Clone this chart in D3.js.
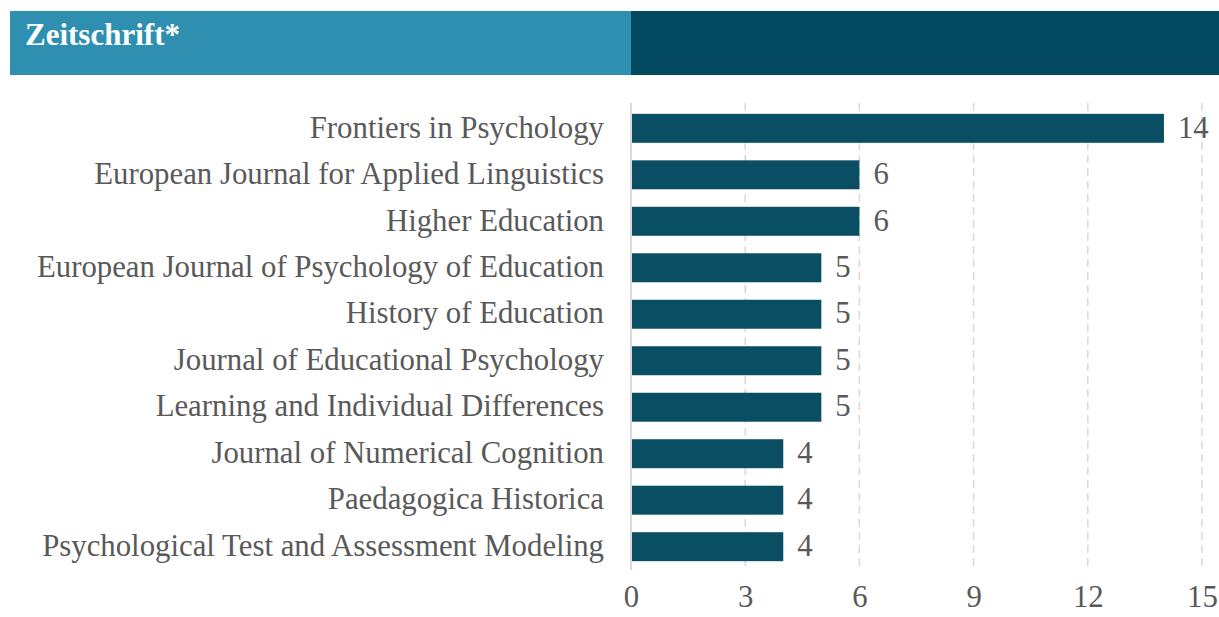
<!DOCTYPE html>
<html><head><meta charset="utf-8">
<script src="https://cdn.jsdelivr.net/npm/d3@7"></script>
<style>body{margin:0;background:#fff;} svg{display:block;}</style>
</head><body>
<svg id="c" width="1219" height="617"></svg>
<script>
const categories = ["Frontiers in Psychology","European Journal for Applied Linguistics","Higher Education","European Journal of Psychology of Education","History of Education","Journal of Educational Psychology","Learning and Individual Differences","Journal of Numerical Cognition","Paedagogica Historica","Psychological Test and Assessment Modeling"];
const values = [14,6,6,5,5,5,5,4,4,4];
const tickValues = [0,3,6,9,12,15];
const title = "Zeitschrift*";

const svg = d3.select("#c");
const font = "'Liberation Serif', 'Times New Roman', serif";
const fs = 30.8;
// header
svg.append("rect").attr("x",10).attr("y",11).attr("width",621).attr("height",64).attr("fill","#2E8FB0");
svg.append("rect").attr("x",631).attr("y",11).attr("width",600).attr("height",64).attr("fill","#034A60");
svg.append("text").attr("x",25).attr("y",45).text(title).attr("fill","#fff")
  .attr("font-family",font).attr("font-weight","bold").attr("font-size",31);

const x = d3.scaleLinear().domain([0,15]).range([631,1202]);
const y = d3.scaleBand().domain(categories).range([105,570]).paddingInner(0.377).paddingOuter(0.19);

// grid
svg.append("g").selectAll("line").data(tickValues.slice(1)).join("line")
  .attr("x1",d=>x(d)).attr("x2",d=>x(d)).attr("y1",103).attr("y2",570)
  .attr("stroke","#d9d9d9").attr("stroke-width",1.5).attr("stroke-dasharray","8,5");

// bars
svg.append("g").selectAll("rect").data(values).join("rect")
  .attr("x",x(0)).attr("y",(d,i)=>y(categories[i])).attr("width",d=>x(d)-x(0)).attr("height",y.bandwidth())
  .attr("fill","#0A4E63");

// axis line at 0
svg.append("line").attr("x1",x(0)).attr("x2",x(0)).attr("y1",103).attr("y2",570)
  .attr("stroke","#d9d9d9").attr("stroke-width",2);

// category labels
svg.append("g").selectAll("text").data(categories).join("text")
  .attr("x",604).attr("y",d=>y(d)+y.bandwidth()/2).attr("dy","0.3em")
  .attr("text-anchor","end").attr("fill","#595959").attr("font-family",font).attr("font-size",fs)
  .text(d=>d);

// value labels
svg.append("g").selectAll("text").data(values).join("text")
  .attr("x",d=>x(d)+14).attr("y",(d,i)=>y(categories[i])+y.bandwidth()/2).attr("dy","0.3em")
  .attr("fill","#595959").attr("font-family",font).attr("font-size",fs)
  .text(d=>d);

// x axis tick labels
const ax = d3.axisBottom(x).tickValues(tickValues).tickSize(0).tickPadding(0);
const g = svg.append("g").attr("transform","translate(0,585)").call(ax);
g.select(".domain").remove();
g.selectAll("text").attr("fill","#595959").attr("font-family",font).attr("font-size",fs).attr("dy","0.71em");
</script>
</body></html>
